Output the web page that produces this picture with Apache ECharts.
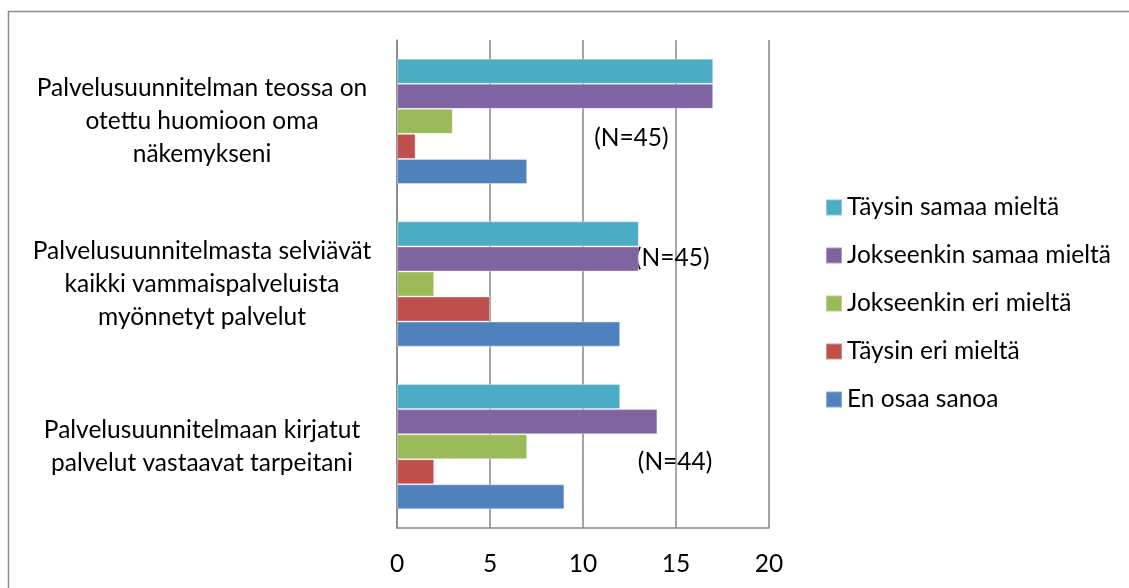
<!DOCTYPE html>
<html>
<head>
<meta charset="utf-8">
<script src="https://cdn.jsdelivr.net/npm/echarts@6/dist/echarts.min.js"></script>
<style>
  html, body { margin: 0; padding: 0; background: #fff; }
  #chart { width: 1129px; height: 588px; }
</style>
</head>
<body>
<div id="chart"></div>
<script>
// Statements (top to bottom)
const categories = [
  'Palvelusuunnitelman teossa on\notettu huomioon oma\nnäkemykseni',
  'Palvelusuunnitelmasta selviävät\nkaikki vammaispalveluista\nmyönnetyt palvelut',
  'Palvelusuunnitelmaan kirjatut\npalvelut vastaavat tarpeitani'
];

// Answer counts per statement
const taysinSamaa = [17, 13, 12];
const jokseenkinSamaa = [17, 13, 14];
const jokseenkinEri = [3, 2, 7];
const taysinEri = [1, 5, 2];
const enOsaa = [7, 12, 9];

const seriesNames = [
  'Täysin samaa mieltä',
  'Jokseenkin samaa mieltä',
  'Jokseenkin eri mieltä',
  'Täysin eri mieltä',
  'En osaa sanoa'
];
const seriesColors = ['#4BACC6', '#8064A2', '#9BBB59', '#C0504D', '#4F81BD'];
const seriesValues = [taysinSamaa, jokseenkinSamaa, jokseenkinEri, taysinEri, enOsaa];

// Respondent counts per statement
const nLabels = ['(N=45)', '(N=45)', '(N=44)'];

const xTicks = [0, 5, 10, 15, 20];

const FONT = 'Lato';
const FS = 24.5;
const chart = echarts.init(document.getElementById('chart'), null, { renderer: 'canvas' });

const option = {
  animation: false,
  backgroundColor: '#fff',
  textStyle: { fontFamily: FONT, color: '#000' },
  grid: { left: 397, top: 40, width: 372, height: 488, containLabel: false },
  legend: {
    orient: 'vertical',
    left: 825,
    top: 195,
    padding: 0,
    itemWidth: 16,
    itemHeight: 16,
    itemGap: 23,
    icon: 'rect',
    textStyle: { fontFamily: FONT, fontSize: FS, color: '#000' },
    data: seriesNames
  },
  xAxis: {
    type: 'value',
    min: xTicks[0],
    max: xTicks[xTicks.length - 1],
    interval: 5,
    axisLine: { show: true, lineStyle: { color: '#868686', width: 1.5 } },
    axisTick: { show: false },
    splitLine: { show: true, lineStyle: { color: '#868686', width: 1.5 } },
    axisLabel: { fontFamily: FONT, fontSize: FS, color: '#000', margin: 24 }
  },
  yAxis: {
    type: 'category',
    inverse: true,
    data: categories,
    axisLine: { show: true, lineStyle: { color: '#868686', width: 1.5 } },
    axisTick: { show: false },
    axisLabel: {
      fontFamily: FONT, fontSize: FS, color: '#000',
      align: 'center', margin: 195, lineHeight: 33
    }
  },
  series: seriesNames.map((name, i) => ({
    name: name,
    type: 'bar',
    data: seriesValues[i],
    barGap: '0%',
    barCategoryGap: '23%',
    itemStyle: { color: seriesColors[i], borderColor: 'rgba(255,255,255,0.35)', borderWidth: 1 }
  }))
};
chart.setOption(option);

// Respondent count annotations placed in data space (value, category, offset within band)
const nPos = [[12.6, 0, 0.1], [14.8, 1, -0.16], [14.95, 2, 0.094]];
const band = chart.convertToPixel({ gridIndex: 0 }, [0, 1])[1] - chart.convertToPixel({ gridIndex: 0 }, [0, 0])[1];
const gfx = nPos.map((p, i) => {
  const base = chart.convertToPixel({ gridIndex: 0 }, [p[0], p[1]]);
  return {
    type: 'text',
    x: base[0],
    y: base[1] + p[2] * band,
    style: { text: nLabels[i], font: FS + 'px ' + FONT, fill: '#000', align: 'center', verticalAlign: 'middle' }
  };
});
gfx.push({
  type: 'rect',
  shape: { x: 8.5, y: 11.5, width: 1200, height: 700 },
  style: { fill: 'none', stroke: '#8c8c8c', lineWidth: 1.5 },
  silent: true
});
chart.setOption({ graphic: gfx });
</script>
</body>
</html>
